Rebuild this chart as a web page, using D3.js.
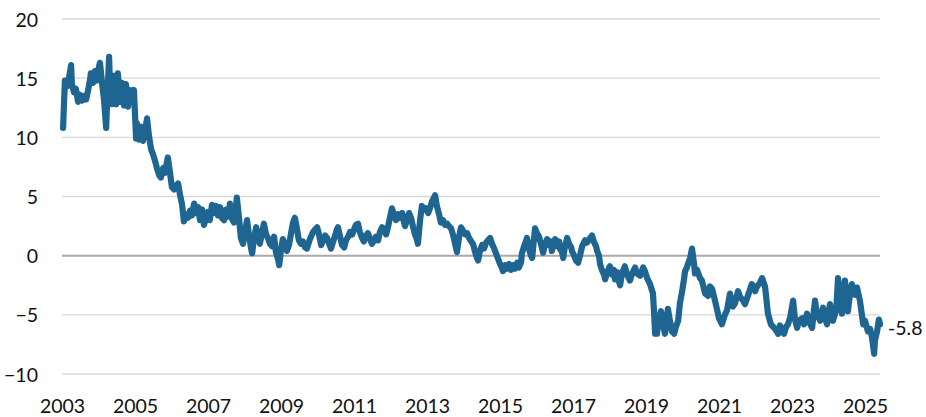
<!DOCTYPE html>
<html>
<head>
<meta charset="utf-8">
<script src="https://cdn.jsdelivr.net/npm/d3@7"></script>
<style>
  html, body { margin: 0; padding: 0; background: #ffffff; }
  svg { display: block; }
  text { font-family: "Lato", "Open Sans", sans-serif; fill: #111111; }
</style>
</head>
<body>
<svg id="chart" width="926" height="417"></svg>
<script>
// ---- data (decimal year, value) ----
const series = [
  [2003.03,10.8],[2003.05,12.5],[2003.08,14.8],[2003.14,14.3],[2003.19,15.0],[2003.25,16.1],[2003.27,14.5],
  [2003.33,13.8],[2003.38,14.1],[2003.44,13.0],[2003.49,13.6],[2003.55,13.1],[2003.60,13.5],[2003.66,13.2],
  [2003.71,13.9],[2003.77,14.9],[2003.79,15.4],[2003.85,14.6],[2003.90,15.6],[2003.96,14.8],[2004.01,15.9],
  [2004.04,16.3],[2004.10,14.5],[2004.15,13.2],[2004.21,10.8],[2004.23,12.5],[2004.29,16.8],[2004.32,14.0],
  [2004.37,12.8],[2004.42,15.2],[2004.48,12.8],[2004.53,15.4],[2004.59,13.0],[2004.64,14.6],[2004.70,12.7],
  [2004.75,14.5],[2004.81,12.6],[2004.86,14.0],[2004.92,13.3],[2004.97,14.0],[2005.03,9.9],[2005.05,11.2],
  [2005.11,9.8],[2005.16,10.9],[2005.22,9.7],[2005.27,10.5],[2005.33,11.6],[2005.38,10.2],[2005.44,9.0],
  [2005.49,8.6],[2005.55,8.0],[2005.60,7.4],[2005.66,6.8],[2005.71,6.6],[2005.77,7.4],[2005.82,7.0],
  [2005.88,8.0],[2005.90,8.3],[2005.96,7.0],[2006.01,5.8],[2006.07,5.6],[2006.12,5.9],[2006.18,6.1],
  [2006.23,5.2],[2006.29,4.3],[2006.34,2.9],[2006.40,3.5],[2006.45,3.2],[2006.51,3.8],[2006.56,3.4],
  [2006.62,4.4],[2006.67,3.6],[2006.73,4.1],[2006.78,3.0],[2006.84,3.9],[2006.89,2.6],[2006.95,3.2],
  [2007.00,3.7],[2007.05,3.0],[2007.11,4.3],[2007.16,3.6],[2007.22,4.2],[2007.27,3.4],[2007.33,4.1],
  [2007.38,3.2],[2007.44,3.0],[2007.49,3.9],[2007.55,3.3],[2007.60,4.4],[2007.66,3.1],[2007.71,2.8],
  [2007.77,4.3],[2007.79,4.9],[2007.85,3.2],[2007.90,1.5],[2007.96,1.0],[2008.01,2.0],[2008.07,3.0],
  [2008.12,1.8],[2008.18,0.6],[2008.21,0.2],[2008.26,1.5],[2008.32,2.4],[2008.37,1.6],[2008.42,1.0],
  [2008.48,1.9],[2008.53,2.7],[2008.59,1.8],[2008.64,1.5],[2008.70,1.0],[2008.75,0.8],[2008.81,1.6],
  [2008.86,0.3],[2008.92,-0.3],[2008.95,-0.8],[2009.00,0.5],[2009.05,1.4],[2009.11,0.9],[2009.16,0.4],
  [2009.22,0.9],[2009.27,1.8],[2009.33,2.8],[2009.38,3.2],[2009.44,2.2],[2009.49,1.3],[2009.55,1.0],
  [2009.60,1.2],[2009.66,0.7],[2009.71,0.6],[2009.77,1.2],[2009.82,1.6],[2009.88,2.0],[2009.93,2.2],
  [2009.99,2.4],[2010.04,1.8],[2010.10,0.9],[2010.15,1.3],[2010.21,1.7],[2010.26,1.5],[2010.32,1.0],
  [2010.37,0.6],[2010.42,1.1],[2010.48,1.7],[2010.53,2.2],[2010.56,2.4],[2010.62,1.6],[2010.67,0.9],
  [2010.73,0.7],[2010.78,1.3],[2010.84,1.6],[2010.89,2.0],[2010.95,1.8],[2011.00,2.2],[2011.05,2.6],
  [2011.11,2.7],[2011.16,2.0],[2011.22,1.5],[2011.27,1.2],[2011.33,1.7],[2011.38,1.9],[2011.44,1.4],
  [2011.49,1.0],[2011.55,1.3],[2011.60,1.6],[2011.66,1.3],[2011.71,2.0],[2011.77,2.4],[2011.82,2.2],
  [2011.88,1.8],[2011.93,2.4],[2011.99,3.3],[2012.04,4.0],[2012.10,3.4],[2012.15,3.0],[2012.21,3.5],
  [2012.26,3.2],[2012.32,3.6],[2012.37,2.8],[2012.40,2.5],[2012.45,3.0],[2012.51,3.6],[2012.56,3.2],
  [2012.62,2.4],[2012.67,1.8],[2012.73,1.3],[2012.75,1.0],[2012.81,3.0],[2012.86,4.2],[2012.92,3.9],
  [2012.97,4.0],[2013.03,3.6],[2013.08,4.0],[2013.14,4.6],[2013.19,4.9],[2013.22,5.1],[2013.27,4.2],
  [2013.33,3.5],[2013.38,2.8],[2013.44,3.0],[2013.49,2.6],[2013.55,2.7],[2013.60,2.5],[2013.66,2.3],
  [2013.71,1.8],[2013.77,1.0],[2013.82,0.3],[2013.88,1.6],[2013.93,2.4],[2013.99,2.1],[2014.04,1.8],
  [2014.10,1.9],[2014.15,1.5],[2014.21,1.2],[2014.26,1.0],[2014.32,0.3],[2014.37,-0.2],[2014.40,-0.4],
  [2014.45,0.4],[2014.51,0.9],[2014.56,0.6],[2014.62,1.1],[2014.67,1.3],[2014.73,1.5],[2014.78,1.0],
  [2014.84,0.6],[2014.89,0.2],[2014.95,-0.3],[2015.00,-0.7],[2015.05,-1.0],[2015.08,-1.3],[2015.14,-0.8],
  [2015.19,-1.1],[2015.25,-0.7],[2015.30,-1.2],[2015.36,-0.8],[2015.41,-1.1],[2015.47,-0.6],[2015.52,-1.0],
  [2015.58,-0.5],[2015.60,0.2],[2015.66,0.8],[2015.71,1.2],[2015.74,1.5],[2015.79,0.6],[2015.85,0.0],
  [2015.88,-0.2],[2015.93,1.4],[2015.96,2.3],[2016.01,1.9],[2016.07,1.6],[2016.12,1.0],[2016.18,0.25],
  [2016.23,0.9],[2016.29,1.4],[2016.34,0.9],[2016.40,1.2],[2016.42,0.4],[2016.48,1.1],[2016.51,1.4],
  [2016.56,0.8],[2016.62,1.2],[2016.64,0.6],[2016.70,0.3],[2016.73,-0.2],[2016.78,0.8],[2016.84,1.5],
  [2016.89,1.0],[2016.95,0.7],[2016.97,0.4],[2017.03,0.0],[2017.08,-0.4],[2017.14,-0.6],[2017.19,0.0],
  [2017.25,0.8],[2017.33,1.3],[2017.38,1.1],[2017.47,1.5],[2017.52,1.7],[2017.58,1.1],[2017.63,0.8],
  [2017.66,0.4],[2017.71,0.0],[2017.74,-0.7],[2017.79,-1.2],[2017.85,-1.6],[2017.88,-2.0],[2017.93,-1.5],
  [2017.99,-1.0],[2018.01,-0.9],[2018.07,-1.6],[2018.12,-1.2],[2018.15,-2.0],[2018.21,-1.4],[2018.26,-2.2],
  [2018.29,-2.5],[2018.34,-1.5],[2018.42,-0.9],[2018.48,-1.6],[2018.56,-2.1],[2018.62,-1.5],[2018.70,-1.0],
  [2018.75,-1.5],[2018.84,-1.7],[2018.92,-1.0],[2018.97,-1.3],[2019.03,-1.9],[2019.11,-2.4],[2019.19,-3.2],
  [2019.22,-4.8],[2019.25,-6.6],[2019.30,-6.6],[2019.36,-5.2],[2019.41,-4.7],[2019.47,-5.9],[2019.52,-6.6],
  [2019.58,-5.0],[2019.60,-4.5],[2019.66,-5.6],[2019.71,-6.4],[2019.77,-6.6],[2019.82,-6.0],[2019.88,-5.5],
  [2019.93,-4.0],[2019.99,-3.0],[2020.04,-2.0],[2020.07,-1.3],[2020.12,-1.0],[2020.15,-0.7],[2020.21,-0.2],
  [2020.26,0.6],[2020.32,-0.8],[2020.34,-1.5],[2020.40,-1.2],[2020.42,-1.4],[2020.48,-1.9],[2020.53,-2.1],
  [2020.62,-3.2],[2020.70,-3.4],[2020.75,-2.6],[2020.81,-2.8],[2020.89,-3.8],[2020.95,-4.6],[2021.00,-5.3],
  [2021.08,-5.8],[2021.16,-5.0],[2021.22,-4.6],[2021.30,-3.2],[2021.38,-4.3],[2021.44,-4.0],[2021.52,-3.0],
  [2021.58,-3.5],[2021.66,-3.8],[2021.71,-4.1],[2021.79,-3.4],[2021.90,-2.4],[2021.99,-3.0],[2022.04,-2.6],
  [2022.12,-2.3],[2022.18,-1.9],[2022.26,-2.6],[2022.34,-4.9],[2022.42,-5.8],[2022.51,-6.1],[2022.56,-6.3],
  [2022.62,-6.6],[2022.67,-5.9],[2022.73,-6.3],[2022.78,-6.6],[2022.84,-6.0],[2022.89,-5.8],[2022.95,-5.2],
  [2023.03,-3.8],[2023.08,-5.4],[2023.14,-6.1],[2023.19,-5.5],[2023.27,-5.3],[2023.33,-5.8],[2023.41,-4.9],
  [2023.47,-5.6],[2023.55,-6.1],[2023.60,-4.6],[2023.63,-3.8],[2023.68,-4.9],[2023.77,-5.5],[2023.85,-4.4],
  [2023.90,-5.2],[2023.96,-5.8],[2024.04,-4.1],[2024.12,-5.5],[2024.21,-4.6],[2024.26,-1.9],[2024.32,-3.5],
  [2024.37,-4.9],[2024.45,-2.1],[2024.53,-4.7],[2024.59,-3.2],[2024.64,-2.4],[2024.73,-3.3],[2024.78,-2.7],
  [2024.86,-3.8],[2024.95,-5.8],[2025.00,-5.5],[2025.08,-6.4],[2025.14,-6.2],[2025.19,-6.9],[2025.25,-8.3],
  [2025.27,-7.2],[2025.33,-6.4],[2025.38,-5.4],[2025.41,-5.8]
];
const yTicks = [20, 15, 10, 5, 0, -5, -10];
const xTicks = [2003, 2005, 2007, 2009, 2011, 2013, 2015, 2017, 2019, 2021, 2023, 2025];
const lastLabel = "-5.8";

// ---- layout ----
const svg = d3.select("#chart");
const plotLeft = 62, plotRight = 880, plotTop = 19, plotBottom = 374;

const x = d3.scaleLinear().domain([2003, 2025.41]).range([plotLeft, plotRight]);
const y = d3.scaleLinear().domain([-10, 20]).range([plotBottom, plotTop]);

// gridlines
svg.append("g").selectAll("line")
  .data(yTicks)
  .join("line")
  .attr("x1", plotLeft).attr("x2", plotRight)
  .attr("y1", d => y(d)).attr("y2", d => y(d))
  .attr("stroke", d => d === 0 ? "#a9a9a9" : "#d9d9d9")
  .attr("stroke-width", d => d === 0 ? 2 : 1.3);

// y axis labels
const yAxis = d3.axisLeft(y).tickValues(yTicks).tickSize(0).tickPadding(0).tickFormat(d3.format("d"));
const gy = svg.append("g").attr("transform", "translate(38,0)").call(yAxis);
gy.select(".domain").remove();
gy.selectAll("text").attr("font-size", 19.5).attr("font-family", "Lato, 'Open Sans', sans-serif")
  .attr("fill", "#111111").attr("dy", "0.36em");

// x axis labels
const xAxis = d3.axisBottom(x).tickValues(xTicks).tickSize(0).tickPadding(0).tickFormat(d3.format("d"));
const gx = svg.append("g").attr("transform", "translate(0,399)").call(xAxis);
gx.select(".domain").remove();
gx.selectAll("text").attr("font-size", 19.5).attr("font-family", "Lato, 'Open Sans', sans-serif")
  .attr("fill", "#111111").attr("dy", "0.71em");

// line
const line = d3.line().x(d => x(d[0])).y(d => y(d[1])).curve(d3.curveLinear);
svg.append("path")
  .datum(series)
  .attr("d", line)
  .attr("fill", "none")
  .attr("stroke", "#1e6591")
  .attr("stroke-width", 6.2)
  .attr("stroke-linejoin", "round")
  .attr("stroke-linecap", "round");

// end label
const last = series[series.length - 1];
svg.append("text")
  .attr("x", x(last[0]) + 8)
  .attr("y", y(last[1]) + 11)
  .attr("font-size", 19.5)
  .attr("fill", "#111111")
  .text(lastLabel);
</script>
</body>
</html>
